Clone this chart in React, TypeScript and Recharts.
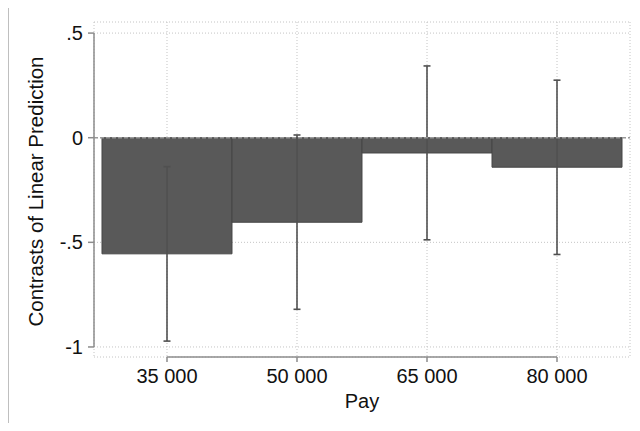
import React from 'react';
import {
  ComposedChart,
  Bar,
  ErrorBar,
  XAxis,
  YAxis,
  CartesianGrid,
  ReferenceLine,
} from 'recharts';

// pay levels and their contrasts with 95% CI
const payLevels = [35000, 50000, 65000, 80000];
const contrasts = [-0.555, -0.404, -0.073, -0.141];
const ciLower = [-0.972, -0.82, -0.488, -0.558];
const ciUpper = [-0.138, 0.013, 0.343, 0.275];

const yTicks = [-1, -0.5, 0, 0.5];
const X_DOMAIN = [26577, 88423];
const Y_DOMAIN = [-1.048, 0.553];

const FONT = '"Liberation Sans", Arial, sans-serif';
const AXIS_GRAY = '#8c8c8c';
const TEXT = '#111';

const data = payLevels.map((pay, i) => ({
  pay,
  contrast: contrasts[i],
  err: [contrasts[i] - ciLower[i], ciUpper[i] - contrasts[i]],
}));

const fmtPay = (v: number) => String(v).replace(/(\d)(?=(\d{3})+$)/g, '$1 ');
const fmtY = (v: number) => {
  if (v === 0) return '0';
  return String(v).replace(/^(-?)0\./, '$1.');
};

const YTitle = ({ viewBox }: any) => {
  const cx = 35;
  const cy = viewBox.y + viewBox.height / 2 + 2;
  return (
    <text
      x={cx}
      y={cy}
      transform={`rotate(-90, ${cx}, ${cy})`}
      textAnchor="middle"
      dominantBaseline="central"
      fontFamily={FONT}
      fontSize={20.5}
      fill={TEXT}
    >
      Contrasts of Linear Prediction
    </text>
  );
};

const XTitle = ({ viewBox }: any) => (
  <text
    x={viewBox.x + viewBox.width / 2}
    y={408}
    textAnchor="middle"
    fontFamily={FONT}
    fontSize={20}
    fill={TEXT}
  >
    Pay
  </text>
);

export default function App() {
  return (
    <div style={{ position: 'relative', margin: -8, width: 640, height: 431, background: '#fff' }}>
      <ComposedChart
        width={640}
        height={431}
        data={data}
        margin={{ top: 22, right: 10, bottom: 0, left: 0 }}
        barCategoryGap={0}
      >
        <CartesianGrid stroke="#c4c4c4" strokeDasharray="1 2" />
        <XAxis
          dataKey="pay"
          type="number"
          domain={X_DOMAIN}
          allowDataOverflow
          ticks={payLevels}
          tickFormatter={fmtPay}
          axisLine={false}
          tickLine={{ stroke: AXIS_GRAY, strokeWidth: 1.5 }}
          tickSize={5}
          tickMargin={7}
          height={74}
          tick={{ fontFamily: FONT, fontSize: 20, fill: TEXT }}
          label={<XTitle />}
        />
        <YAxis
          type="number"
          domain={Y_DOMAIN}
          allowDataOverflow
          ticks={yTicks}
          tickFormatter={fmtY}
          axisLine={false}
          tickLine={{ stroke: AXIS_GRAY, strokeWidth: 1.5 }}
          tickSize={6}
          tickMargin={5}
          width={94}
          tick={{ fontFamily: FONT, fontSize: 20, fill: TEXT }}
          label={<YTitle />}
        />
        <Bar dataKey="contrast" fill="#595959" stroke="#464646" strokeWidth={1} isAnimationActive={false}>
          <ErrorBar dataKey="err" direction="y" width={3.5} stroke="#505050" strokeWidth={1.6} />
        </Bar>
        <ReferenceLine y={0} stroke="#9a9a9a" strokeWidth={1.5} strokeDasharray="4 2" ifOverflow="visible" />
        {/* axis lines span only the labelled range */}
        <ReferenceLine
          segment={[{ x: X_DOMAIN[0], y: 0.5 }, { x: X_DOMAIN[0], y: -1 }]}
          stroke={AXIS_GRAY}
          strokeWidth={1.5}
          ifOverflow="visible"
        />
        <ReferenceLine
          segment={[{ x: payLevels[0], y: Y_DOMAIN[0] }, { x: payLevels[payLevels.length - 1], y: Y_DOMAIN[0] }]}
          stroke={AXIS_GRAY}
          strokeWidth={1.5}
          ifOverflow="visible"
        />
      </ComposedChart>
      {/* outer frame; its right edge runs past the canvas */}
      <svg
        width={640}
        height={431}
        style={{ position: 'absolute', left: 0, top: 0, pointerEvents: 'none' }}
      >
        <path d="M660,4 H7 V429 H660" fill="none" stroke="#000" strokeWidth={2.5} />
      </svg>
    </div>
  );
}
